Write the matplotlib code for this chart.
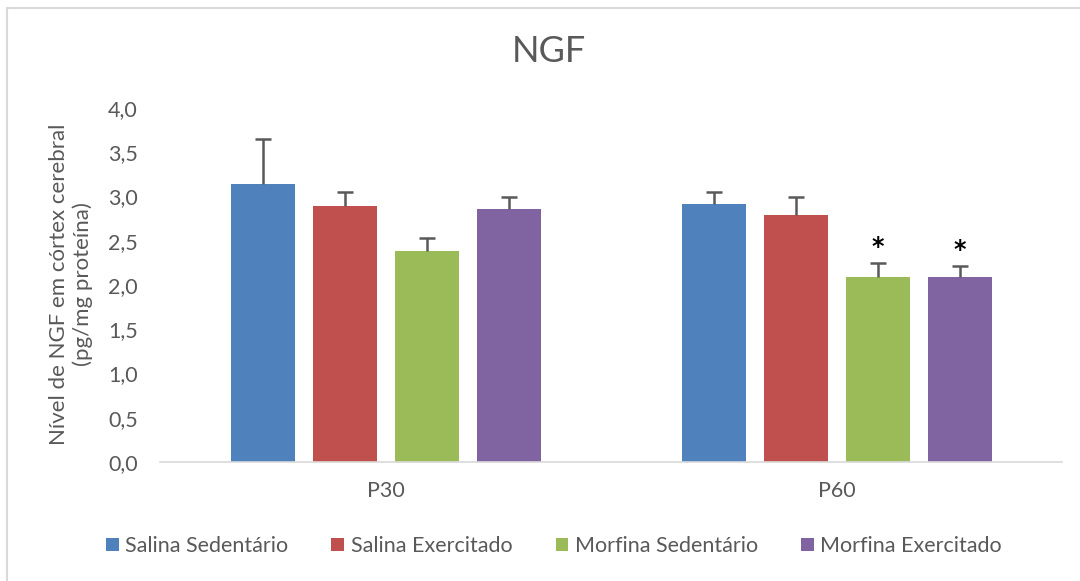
import matplotlib
matplotlib.use("Agg")
import matplotlib.pyplot as plt
import numpy as np
from matplotlib.patches import Rectangle

plt.rcParams['font.family'] = ['Lato', 'DejaVu Sans']

categories = ["P30", "P60"]
series = ["Salina Sedentário", "Salina Exercitado", "Morfina Sedentário", "Morfina Exercitado"]
colors = ["#4F81BD", "#C0504D", "#9BBB59", "#8064A2"]
salina_sed = [3.14, 2.92]
salina_exe = [2.89, 2.79]
morfina_sed = [2.38, 2.09]
morfina_exe = [2.86, 2.09]
err_salina_sed = [0.51, 0.13]
err_salina_exe = [0.16, 0.20]
err_morfina_sed = [0.15, 0.16]
err_morfina_exe = [0.13, 0.12]
significant = [[False, False], [False, False], [False, True], [False, True]]
yticks = [0.0, 0.5, 1.0, 1.5, 2.0, 2.5, 3.0, 3.5, 4.0]
ytick_labels = ["0,0", "0,5", "1,0", "1,5", "2,0", "2,5", "3,0", "3,5", "4,0"]

values = [salina_sed, salina_exe, morfina_sed, morfina_exe]
errors = [err_salina_sed, err_salina_exe, err_morfina_sed, err_morfina_exe]

text_color = "#595959"
fig = plt.figure(figsize=(10.8, 5.81), dpi=100)
ax = fig.add_axes([160/1080, 1 - 462/581, (1062 - 160)/1080, (462 - 108)/581])

x = np.arange(len(categories))
width = 64/451
step = 82/451
for i, (vals, errs, col, name) in enumerate(zip(values, errors, colors, series)):
    pos = x + (i - 1.5) * step
    ax.bar(pos, vals, width, color=col, label=name, zorder=2)
    eb = ax.errorbar(pos, vals, yerr=[np.zeros(len(errs)), errs], fmt='none',
                     ecolor=text_color, elinewidth=1.8, capsize=6, capthick=1.8, zorder=3)
    caps = eb[1]
    for c in caps:
        yd = np.asarray(c.get_ydata())
        if np.allclose(yd, vals):
            c.set_visible(False)
    for j in range(len(categories)):
        if significant[i][j]:
            ax.annotate("*", (pos[j], vals[j] + errs[j]), xytext=(0, 3),
                        textcoords="offset points", ha="center", va="bottom",
                        fontsize=17, fontweight="bold", color="black", family="DejaVu Sans")

ax.set_xlim(-0.5, 1.5)
ax.set_ylim(0, 4)
ax.set_yticks(yticks)
ax.set_yticklabels(ytick_labels)
ax.set_xticks(x)
ax.set_xticklabels(categories)
ax.tick_params(axis='both', length=0, labelsize=15.5, labelcolor=text_color)
ax.tick_params(axis='y', pad=16)
ax.tick_params(axis='x', pad=14)
for s in ["top", "right", "left"]:
    ax.spines[s].set_visible(False)
ax.spines["bottom"].set_color("#D9D9D9")
ax.spines["bottom"].set_linewidth(1.2)

fig.text(549/1080, 1 - 52/581, "NGF", ha="center", va="center", fontsize=26, color=text_color)
fig.text(71/1080, 1 - 284/581, "Nível de NGF em córtex cerebral\n(pg/mg proteína)", ha="center", va="center",
         rotation=90, fontsize=16, color=text_color, linespacing=1.2)

leg = fig.legend(loc="center", bbox_to_anchor=(554/1080, 1 - 546/581), ncol=4, frameon=False,
                 fontsize=15.5, handlelength=0.6, handleheight=0.6, handletextpad=0.3, columnspacing=2.0)
for t in leg.get_texts():
    t.set_color(text_color)

fig.patches.append(Rectangle((7/1080, -0.05), 1.1, 1 - 8/581 + 0.05, transform=fig.transFigure,
                             fill=False, edgecolor="#D9D9D9", linewidth=1.5))

fig.savefig("out.png", dpi=100)
